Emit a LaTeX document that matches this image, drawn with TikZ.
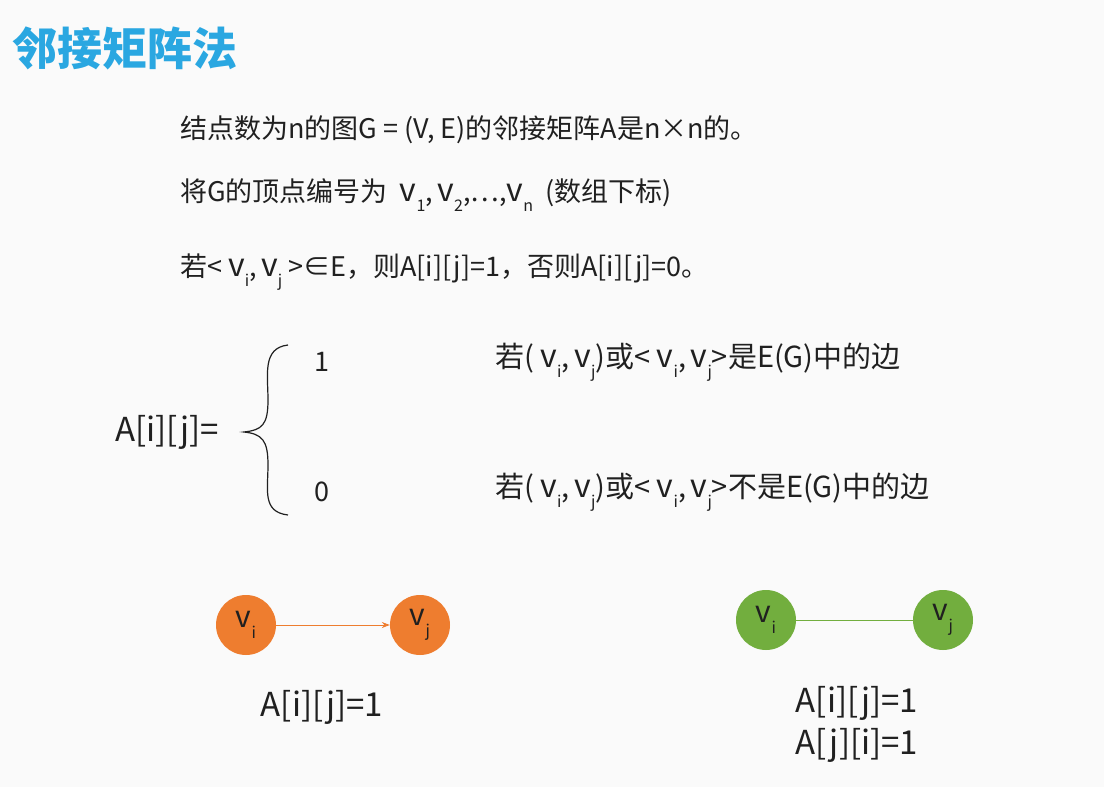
\documentclass[tikz,border=0pt]{standalone}
\usepackage{fontspec}
\setmainfont{Noto Sans CJK SC}
\usetikzlibrary{arrows.meta}
\definecolor{ttl}{HTML}{2AA7E1}
\definecolor{org}{HTML}{EE7D2F}
\definecolor{grn}{HTML}{72AE3E}
\definecolor{txt}{HTML}{202020}
\newcommand\vsb[1]{\raisebox{-0.35em}{\fontsize{16}{16}\selectfont #1}}
\newcommand\vv{{\fontsize{32}{30}\selectfont v}}
\tikzset{
  body/.style={anchor=west,inner sep=0pt,text=txt,font=\fontsize{27}{30}\selectfont},
  big/.style={body,font=\fontsize{33}{36}\selectfont},
  vnode/.style={circle,minimum size=60pt,inner sep=0pt,font=\fontsize{30}{30}\selectfont,text=txt},
}
\begin{document}
\begin{tikzpicture}[x=1pt,y=-1pt]
\fill[white!96!gray] (0,0) rectangle (1104,787);
\useasboundingbox (0,0) rectangle (1104,787);
\node[anchor=west,inner sep=0pt,text=ttl,font=\fontsize{45}{50}\selectfont\bfseries] (title) at (12,48) {邻接矩阵法};
\node[body] (l1) at (180,130) {结点数为n的图G = (V, E)的邻接矩阵A是n×n的。};
\node[body] (l2) at (180,195) {将G的顶点编号为\ \ \vv\vsb{1},\,\vv\vsb{2},…,\vv\vsb{\itshape n}\ \ (数组下标)};
\node[body] (l3) at (180,272) {若< \vv\vsb{i},\,\vv\vsb{j} >∈E，则A[i][j]=1，否则A[i][j]=0。};
\node[big] (aij) at (115,432) {A[i][j]=};
\draw[txt,line width=1.2pt] (288,345) .. controls (262,348) and (268,375) .. (268,400) .. controls (268,425) and (262,430) .. (244,432)
  .. controls (262,434) and (268,440) .. (268,465) .. controls (268,490) and (262,512) .. (288,515);
\node[body] (one) at (314,362) {1};
\node[body] (zero) at (314,492) {0};
\node[body,font=\fontsize{29}{32}\selectfont] (c1) at (495,362) {若( \vv\vsb{i},\,\vv\vsb{j})或< \vv\vsb{i},\,\vv\vsb{j}>是E(G)中的边};
\node[body,font=\fontsize{29}{32}\selectfont] (c0) at (495,492) {若( \vv\vsb{i},\,\vv\vsb{j})或< \vv\vsb{i},\,\vv\vsb{j}>不是E(G)中的边};
\node[vnode,fill=org] (oi) at (246,625) {v\vsb{i}};
\node[vnode,fill=org] (oj) at (420,625) {v\vsb{j}};
\draw[org,line width=0.8pt,-{Stealth[length=8pt]}] (oi) -- (oj);
\node[vnode,fill=grn] (gi) at (766,620) {v\vsb{i}};
\node[vnode,fill=grn] (gj) at (943,620) {v\vsb{j}};
\draw[grn,line width=0.8pt] (gi) -- (gj);
\node[big,anchor=center] (r1) at (322,707) {A[i][j]=1};
\node[big,anchor=center] (r2) at (857,703) {A[i][j]=1};
\node[big,anchor=center] (r3) at (857,745) {A[j][i]=1};
\end{tikzpicture}
\end{document}
